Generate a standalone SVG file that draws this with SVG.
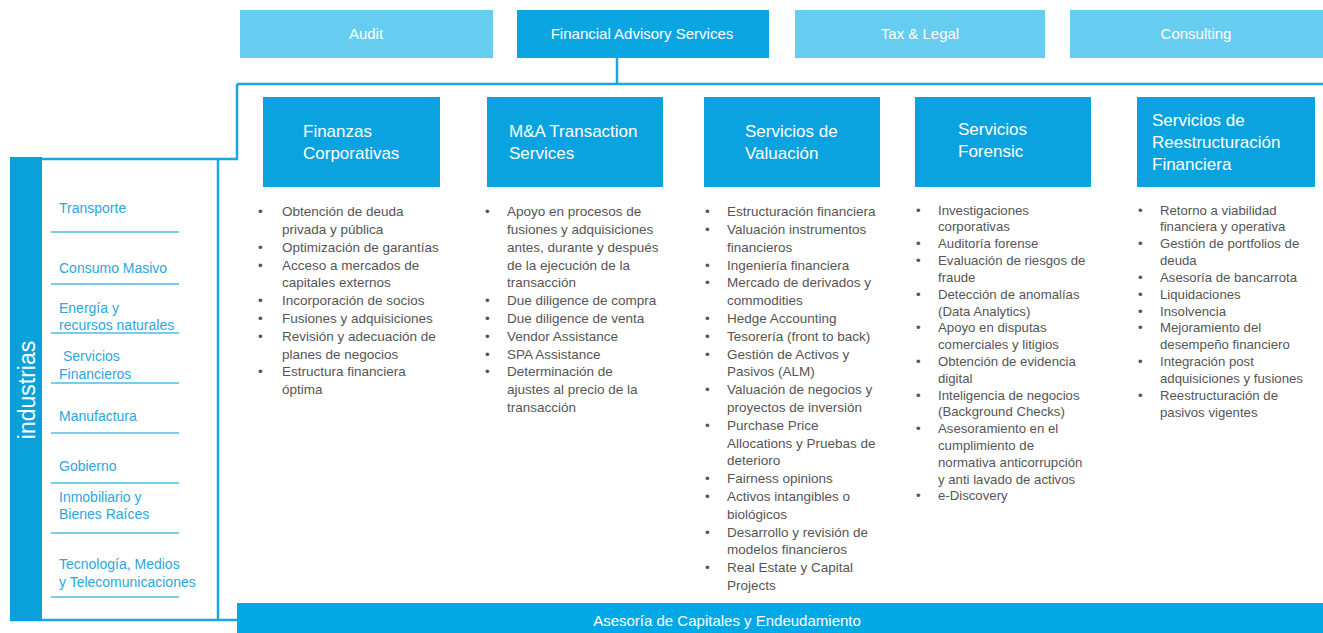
<svg xmlns="http://www.w3.org/2000/svg" width="1323" height="633" viewBox="0 0 1323 633">
<style>
.top{fill:#66CCF0}
.topd{fill:#0AA6E2}
.tt{font-family:"Liberation Sans",Arial,sans-serif;font-size:15px;fill:#fff;text-anchor:middle}
.hb{fill:#0AA3DF}
.ht{font-family:"Liberation Sans",Arial,sans-serif;font-size:17px;fill:#fff}
.ln{stroke:#1AA7E0;stroke-width:2.5;fill:none}
.sep{stroke:#4DBBE8;stroke-width:1.5}
.ind{font-family:"Liberation Sans",Arial,sans-serif;font-size:14px;fill:#2CA6DE}
.bl{font-family:"Liberation Sans",Arial,sans-serif;font-size:13.5px;fill:#555}
.bs{font-family:"Liberation Sans",Arial,sans-serif;font-size:13.2px;fill:#555}
</style>
<rect width="1323" height="633" fill="#fff"/>
<g id="top-audit"><rect class="top" x="240" y="10" width="253" height="48"/><text class="tt" x="366" y="39">Audit</text></g>
<g id="top-fas"><rect class="topd" x="517" y="10" width="252" height="48"/><text class="tt" x="642" y="39">Financial Advisory  Services</text></g>
<g id="top-tax"><rect class="top" x="795" y="10" width="250" height="48"/><text class="tt" x="920" y="39">Tax &amp; Legal</text></g>
<g id="top-consulting"><rect class="top" x="1070" y="10" width="253" height="48"/><text class="tt" x="1196" y="39">Consulting</text></g>

<g id="connectors">
<path class="ln" d="M617 58V84M237 84H1323M237 84V159H10M218 159V620M10 620H240"/>
</g>

<g id="industrias">
<rect x="10" y="157" width="32" height="464" fill="#0AA0DA"/>
<text x="0" y="0" transform="translate(35 390) rotate(-90)" font-family="Liberation Sans,Arial,sans-serif" font-size="23" fill="#fff" text-anchor="middle">industrias</text>
<g class="sep">
<line x1="51" y1="232" x2="179" y2="232"/>
<line x1="51" y1="284" x2="179" y2="284"/>
<line x1="51" y1="333" x2="179" y2="333"/>
<line x1="51" y1="383" x2="179" y2="383"/>
<line x1="51" y1="433" x2="179" y2="433"/>
<line x1="51" y1="483" x2="179" y2="483"/>
<line x1="51" y1="533" x2="179" y2="533"/>
<line x1="51" y1="597" x2="179" y2="597"/>
</g>
<text class="ind" x="59" y="213">Transporte</text>
<text class="ind" x="59" y="273">Consumo  Masivo</text>
<text class="ind" x="59" y="313">Energía  y</text>
<text class="ind" x="59" y="330">recursos  naturales</text>
<text class="ind" x="63" y="361">Servicios</text>
<text class="ind" x="59" y="379">Financieros</text>
<text class="ind" x="59" y="421">Manufactura</text>
<text class="ind" x="59" y="471">Gobierno</text>
<text class="ind" x="59" y="502">Inmobiliario  y</text>
<text class="ind" x="59" y="519">Bienes  Raíces</text>
<text class="ind" x="59" y="569">Tecnología,  Medios</text>
<text class="ind" x="59" y="587">y Telecomunicaciones</text>
</g>

<g id="col-finanzas">
<rect class="hb" x="263" y="97" width="177" height="90"/>
<text class="ht" x="303" y="137">Finanzas</text>
<text class="ht" x="303" y="159">Corporativas</text>
<g class="bl">
<text x="258" y="216">•</text><text x="282" y="216">Obtención de deuda</text>
<text x="282" y="234">privada y pública</text>
<text x="258" y="252">•</text><text x="282" y="252">Optimización de garantías</text>
<text x="258" y="270">•</text><text x="282" y="270">Acceso a mercados de</text>
<text x="282" y="287">capitales externos</text>
<text x="258" y="305">•</text><text x="282" y="305">Incorporación de socios</text>
<text x="258" y="323">•</text><text x="282" y="323">Fusiones y adquisiciones</text>
<text x="258" y="341">•</text><text x="282" y="341">Revisión y adecuación de</text>
<text x="282" y="359">planes de negocios</text>
<text x="258" y="376">•</text><text x="282" y="376">Estructura financiera</text>
<text x="282" y="394">óptima</text>
</g>
</g>

<g id="col-ma">
<rect class="hb" x="487" y="97" width="176" height="90"/>
<text class="ht" x="509" y="137">M&amp;A Transaction</text>
<text class="ht" x="509" y="159">Services</text>
<g class="bl">
<text x="485" y="216">•</text><text x="507" y="216">Apoyo en procesos de</text>
<text x="507" y="234">fusiones y adquisiciones</text>
<text x="507" y="252">antes, durante y después</text>
<text x="507" y="270">de la ejecución de la</text>
<text x="507" y="287">transacción</text>
<text x="485" y="305">•</text><text x="507" y="305">Due diligence de compra</text>
<text x="485" y="323">•</text><text x="507" y="323">Due diligence de venta</text>
<text x="485" y="341">•</text><text x="507" y="341">Vendor Assistance</text>
<text x="485" y="359">•</text><text x="507" y="359">SPA Assistance</text>
<text x="485" y="376">•</text><text x="507" y="376">Determinación de</text>
<text x="507" y="394">ajustes al precio de la</text>
<text x="507" y="412">transacción</text>
</g>
</g>

<g id="col-valuacion">
<rect class="hb" x="704" y="97" width="176" height="90"/>
<text class="ht" x="745" y="137">Servicios de</text>
<text class="ht" x="745" y="159">Valuación</text>
<g class="bl">
<text x="705" y="216">•</text><text x="727" y="216">Estructuración financiera</text>
<text x="705" y="234">•</text><text x="727" y="234">Valuación instrumentos</text>
<text x="727" y="252">financieros</text>
<text x="705" y="270">•</text><text x="727" y="270">Ingeniería financiera</text>
<text x="705" y="287">•</text><text x="727" y="287">Mercado de derivados y</text>
<text x="727" y="305">commodities</text>
<text x="705" y="323">•</text><text x="727" y="323">Hedge Accounting</text>
<text x="705" y="341">•</text><text x="727" y="341">Tesorería (front to back)</text>
<text x="705" y="359">•</text><text x="727" y="359">Gestión de Activos y</text>
<text x="727" y="376">Pasivos (ALM)</text>
<text x="705" y="394">•</text><text x="727" y="394">Valuación de negocios y</text>
<text x="727" y="412">proyectos de inversión</text>
<text x="705" y="430">•</text><text x="727" y="430">Purchase Price</text>
<text x="727" y="448">Allocations y Pruebas de</text>
<text x="727" y="465">deterioro</text>
<text x="705" y="483">•</text><text x="727" y="483">Fairness opinions</text>
<text x="705" y="501">•</text><text x="727" y="501">Activos intangibles o</text>
<text x="727" y="519">biológicos</text>
<text x="705" y="537">•</text><text x="727" y="537">Desarrollo y revisión de</text>
<text x="727" y="554">modelos financieros</text>
<text x="705" y="572">•</text><text x="727" y="572">Real Estate y Capital</text>
<text x="727" y="590">Projects</text>
</g>
</g>

<g id="col-forensic">
<rect class="hb" x="915" y="97" width="176" height="90"/>
<text class="ht" x="958" y="135">Servicios</text>
<text class="ht" x="958" y="157">Forensic</text>
<g class="bs">
<text x="916" y="215">•</text><text x="938" y="215">Investigaciones</text>
<text x="938" y="231">corporativas</text>
<text x="916" y="248">•</text><text x="938" y="248">Auditoría forense</text>
<text x="916" y="265">•</text><text x="938" y="265">Evaluación de riesgos de</text>
<text x="938" y="282">fraude</text>
<text x="916" y="299">•</text><text x="938" y="299">Detección de anomalías</text>
<text x="938" y="316">(Data Analytics)</text>
<text x="916" y="332">•</text><text x="938" y="332">Apoyo en disputas</text>
<text x="938" y="349">comerciales y litigios</text>
<text x="916" y="366">•</text><text x="938" y="366">Obtención de evidencia</text>
<text x="938" y="383">digital</text>
<text x="916" y="400">•</text><text x="938" y="400">Inteligencia de negocios</text>
<text x="938" y="416">(Background Checks)</text>
<text x="916" y="433">•</text><text x="938" y="433">Asesoramiento en el</text>
<text x="938" y="450">cumplimiento de</text>
<text x="938" y="467">normativa anticorrupción</text>
<text x="938" y="484">y anti lavado de activos</text>
<text x="916" y="500">•</text><text x="938" y="500">e-Discovery</text>
</g>
</g>

<g id="col-reestructuracion">
<rect class="hb" x="1137" y="97" width="178" height="90"/>
<text class="ht" x="1152" y="126">Servicios de</text>
<text class="ht" x="1152" y="148">Reestructuración</text>
<text class="ht" x="1152" y="170">Financiera</text>
<g class="bs">
<text x="1138" y="215">•</text><text x="1160" y="215">Retorno a viabilidad</text>
<text x="1160" y="231">financiera y operativa</text>
<text x="1138" y="248">•</text><text x="1160" y="248">Gestión de portfolios de</text>
<text x="1160" y="265">deuda</text>
<text x="1138" y="282">•</text><text x="1160" y="282">Asesoría de bancarrota</text>
<text x="1138" y="299">•</text><text x="1160" y="299">Liquidaciones</text>
<text x="1138" y="316">•</text><text x="1160" y="316">Insolvencia</text>
<text x="1138" y="332">•</text><text x="1160" y="332">Mejoramiento del</text>
<text x="1160" y="349">desempeño financiero</text>
<text x="1138" y="366">•</text><text x="1160" y="366">Integración post</text>
<text x="1160" y="383">adquisiciones y fusiones</text>
<text x="1138" y="400">•</text><text x="1160" y="400">Reestructuración de</text>
<text x="1160" y="417">pasivos vigentes</text>
</g>
</g>

<g id="bottom-bar">
<rect x="237" y="603" width="1086" height="30" fill="#00A9E6"/>
<text class="tt" x="727" y="626">Asesoría de Capitales y Endeudamiento</text>
</g>
</svg>
